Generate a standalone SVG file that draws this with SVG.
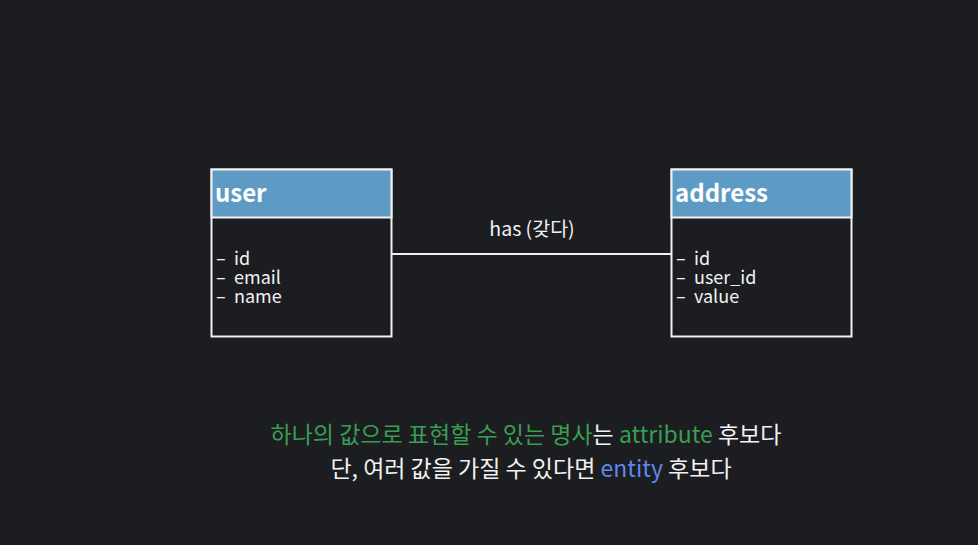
<svg xmlns="http://www.w3.org/2000/svg" width="978" height="545" viewBox="0 0 978 545">
<style>
.box{fill:#1c1d21;stroke:#f2f2f2;stroke-width:2}
.hdr{fill:#5e9bc4;stroke:#f2f2f2;stroke-width:2}
.title{font-family:"Noto Sans CJK KR","Noto Sans",sans-serif;font-size:24px;font-weight:bold;fill:#ffffff}
.attr{font-family:"Noto Sans CJK KR","Noto Sans",sans-serif;font-size:18px;fill:#f2f2f2}
.lbl{font-family:"Noto Sans CJK KR","Noto Sans",sans-serif;font-size:19.5px;fill:#f2f2f2}
.cap{font-family:"Noto Sans CJK KR","Noto Sans",sans-serif;font-size:23px;fill:#f2f2f2}
.g{fill:#3a9e51}
.b{fill:#5f88ec}
</style>
<rect width="978" height="545" fill="#1c1d21"/>
<g id="connectors">
<line x1="391" y1="254" x2="671" y2="254" stroke="#f2f2f2" stroke-width="2"/>
<text class="lbl" x="532" y="236" text-anchor="middle">has (갖다)</text>
</g>
<g id="user">
<rect class="box" x="211.5" y="169.5" width="180" height="167"/>
<rect class="hdr" x="211.5" y="169.5" width="180" height="48"/>
<text class="title" x="215" y="202">user</text>
<text class="attr"><tspan x="216" y="265">–</tspan><tspan x="234" y="265">id</tspan><tspan x="216" y="284">–</tspan><tspan x="234" y="284">email</tspan><tspan x="216" y="303">–</tspan><tspan x="234" y="303">name</tspan></text>
</g>
<g id="address">
<rect class="box" x="671.5" y="169.5" width="180" height="167"/>
<rect class="hdr" x="671.5" y="169.5" width="180" height="48"/>
<text class="title" x="675" y="202">address</text>
<text class="attr"><tspan x="676" y="265">–</tspan><tspan x="694" y="265">id</tspan><tspan x="676" y="284">–</tspan><tspan x="694" y="284">user_id</tspan><tspan x="676" y="303">–</tspan><tspan x="694" y="303">value</tspan></text>
</g>
<g id="caption">
<text class="cap" x="526" y="443" text-anchor="middle"><tspan class="g">하나의 값으로 표현할 수 있는 명사</tspan>는 <tspan class="g">attribute</tspan> 후보다</text>
<text class="cap" x="531" y="477" text-anchor="middle">단, 여러 값을 가질 수 있다면 <tspan class="b">entity</tspan> 후보다</text>
</g>
</svg>
